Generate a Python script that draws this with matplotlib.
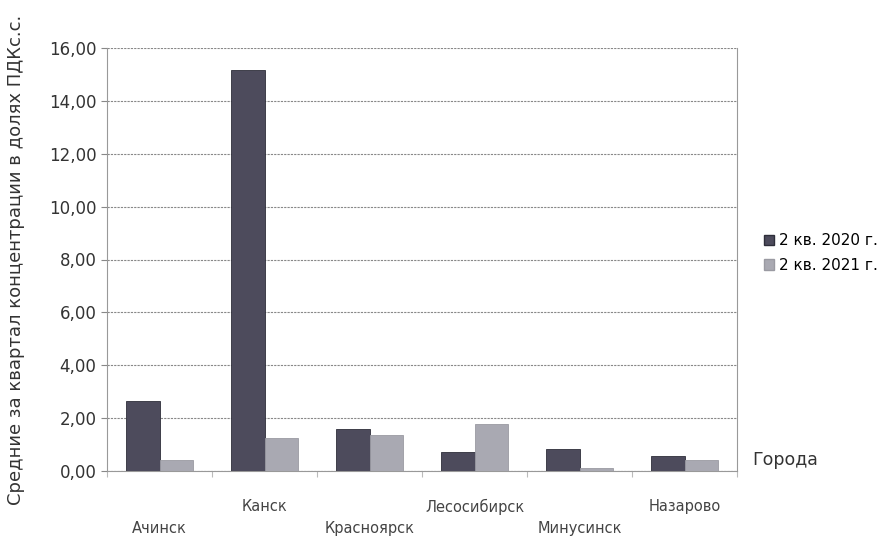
import numpy as np
import matplotlib.pyplot as plt
from matplotlib.patches import Patch

plt.rcParams['font.family'] = ['DejaVu Sans']

cities = ['Ачинск', 'Канск', 'Красноярск', 'Лесосибирск', 'Минусинск', 'Назарово']
q2_2020 = [2.63, 15.15, 1.60, 0.72, 0.82, 0.55]
q2_2021 = [0.40, 1.25, 1.35, 1.76, 0.12, 0.42]
series_names = ['2 кв. 2020 г.', '2 кв. 2021 г.']
yticks = [0, 2, 4, 6, 8, 10, 12, 14, 16]

c2020 = '#4d4b5c'
c2021 = '#a9a9b2'

fig = plt.figure(figsize=(8.96, 5.41), dpi=100)
ax = fig.add_axes([107/896, 1-471/541, 630/896, 423/541])

x = np.arange(len(cities))
w = 0.32
ax.bar(x - w/2, q2_2020, w, color=c2020, edgecolor='#2e2e3a', linewidth=0.6, zorder=3)
ax.bar(x + w/2, q2_2021, w, color=c2021, edgecolor='#9a9aa2', linewidth=0.6, zorder=3)

ax.set_xlim(-0.5, len(cities) - 0.5)
ax.set_ylim(0, 16)
ax.set_yticks(yticks)
ax.set_yticklabels([('%.2f' % v).replace('.', ',') for v in yticks], fontsize=12, color='#333333')
ax.tick_params(axis='y', length=4, color='#888888')
ax.grid(axis='y', color='#888888', linestyle=(0, (2, 1)), linewidth=0.8, zorder=0)

# ticks between categories
ax.set_xticks(np.arange(-0.5, len(cities), 1))
ax.set_xticklabels([])
ax.tick_params(axis='x', length=4, color='#bbbbbb')
for i, name in enumerate(cities):
    yoff = -0.085 if i % 2 == 1 else -0.135
    ax.text(i, yoff, name, transform=ax.get_xaxis_transform(), ha='center', va='center',
            fontsize=10.5, color='#444444')

for side in ['left', 'right', 'top', 'bottom']:
    ax.spines[side].set_color('#999999')
    ax.spines[side].set_linewidth(0.8)
ax.spines['top'].set_visible(False)
ax.spines['right'].set_linestyle((0, (1, 1)))

ax.set_ylabel('Средние за квартал концентрации в долях ПДКс.с.', fontsize=13, color='#333333')
ax.yaxis.set_label_coords(-0.13, 0.5)

fig.text(752/896, 1-460/541, 'Города', fontsize=12.5, color='#333333', va='center')

handles = [Patch(facecolor=c2020, edgecolor='#2e2e3a'), Patch(facecolor=c2021, edgecolor='#9a9aa2')]
fig.legend(handles, series_names, loc='center left', bbox_to_anchor=(750/896, 1-253/541),
           frameon=False, fontsize=11, handlelength=0.7, handleheight=0.7, handletextpad=0.3,
           labelspacing=0.6)

fig.savefig('out.png', dpi=100)
